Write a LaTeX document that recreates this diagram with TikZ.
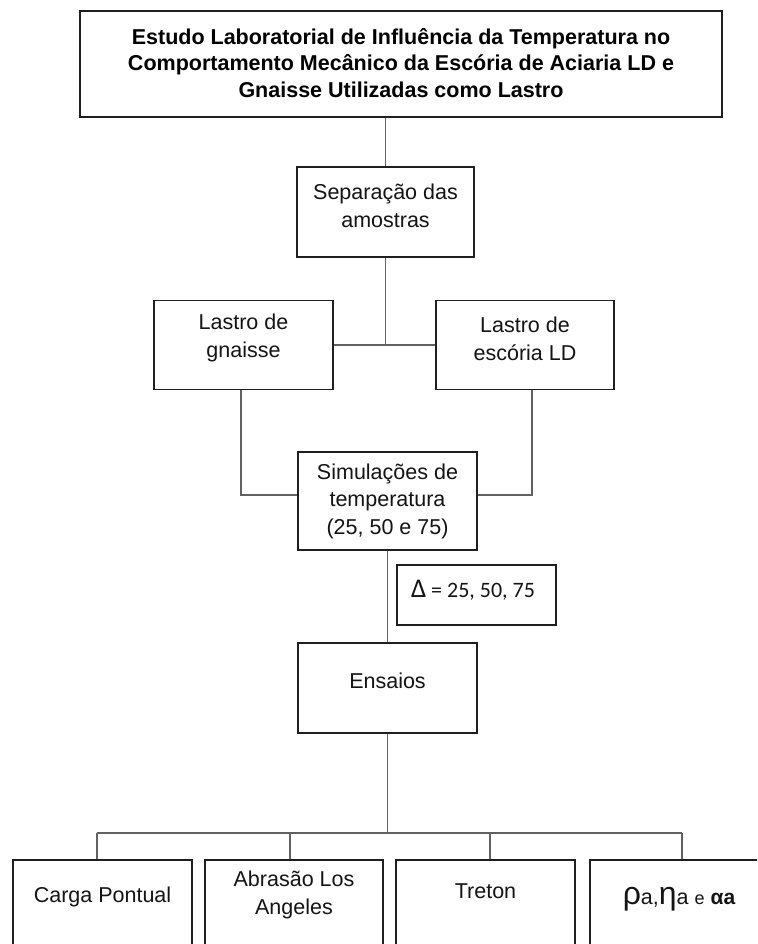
\documentclass[tikz,border=0pt]{standalone}
\usepackage{fontspec}
\setmainfont{Liberation Sans}
\newfontfamily\calib{Carlito}
\begin{document}
\begin{tikzpicture}[x=1pt,y=-1pt,
  box/.style={draw=black!88, line width=1.8pt, inner sep=0pt, fill=white},
  conn/.style={draw=black!62, line width=1.1pt},
  txt/.style={align=center, inner sep=0pt, text=black!92, font=\fontsize{21.5}{27.5}\selectfont},
  ttl/.style={align=center, inner sep=0pt, text=black, font=\bfseries\fontsize{21.5}{26.5}\selectfont}]
\useasboundingbox (0,0) rectangle (757,944);
\clip (0,0) rectangle (757,944);
\fill[white] (0,0) rectangle (757,944);

% boxes
\node[box, minimum width=642pt, minimum height=106pt] (title) at (401,64) {};
\node[box, minimum width=177pt, minimum height=90pt] (sep) at (385.5,212) {};
\node[box, minimum width=179pt, minimum height=89pt] (gn) at (243.5,345) {};
\node[box, minimum width=178pt, minimum height=89pt] (esc) at (525,345) {};
\node[box, minimum width=179pt, minimum height=98pt] (sim) at (387.5,501) {};
\node[box, minimum width=159pt, minimum height=60pt] (delta) at (476.5,595) {};
\node[box, minimum width=179pt, minimum height=90pt] (ens) at (387.5,688) {};
\node[box, anchor=north, minimum width=179pt, minimum height=100pt] (b1) at (102.5,859) {};
\node[box, anchor=north, minimum width=178pt, minimum height=100pt] (b2) at (294,859) {};
\node[box, anchor=north, minimum width=179pt, minimum height=100pt] (b3) at (485.5,859) {};
\node[box, anchor=north, minimum width=179pt, minimum height=100pt] (b4) at (679.5,859) {};

% texts
\node[ttl] (titleT) at (401,63) {Estudo Laboratorial de Influência da Temperatura no\\Comportamento Mecânico da Escória de Aciaria LD e\\Gnaisse Utilizadas como Lastro};
\node[txt] (sepT) at (385.5,206) {Separação das\\amostras};
\node[txt] (gnT) at (243.5,338) {Lastro de\\gnaisse};
\node[txt] (escT) at (525,339) {Lastro de\\escória LD};
\node[txt] (simT) at (387.5,501) {Simulações de\\temperatura\\(25, 50 e 75)};
\node[txt, font=\calib\fontsize{22}{24}\selectfont] (deltaT) at (473,590) {{\fontsize{27}{27}\selectfont Δ} = 25, 50, 75};
\node[txt] (ensT) at (387.5,681) {Ensaios};
\node[txt] (t1) at (102.5,897) {Carga Pontual};
\node[txt] (t2) at (294,895) {Abrasão Los\\Angeles};
\node[txt] (t3) at (485.5,891) {Treton};
\node[txt] (t4) at (679,899) {{\fontsize{32}{32}\selectfont ρ}a,{\fontsize{32}{32}\selectfont η}a {\fontsize{18}{18}\selectfont e} {\bfseries\fontsize{21}{21}\selectfont αa}};

% connectors
\draw[conn] (sep.north) -- (sep.north |- title.south);
\draw[conn] (sep.south) -- (sep.south |- gn.east);
\draw[conn] (gn.east) -- (esc.west);
\draw[conn] ([xshift=-2.5pt]gn.south) |- ([yshift=6pt]sim.west);
\draw[conn] ([xshift=7pt]esc.south) |- ([yshift=6pt]sim.east);
\draw[conn] (sim.south) -- (ens.north);
\coordinate (d1) at (97,833);
\coordinate (d2) at (290,833);
\coordinate (d3) at (490,833);
\coordinate (d4) at (682,833);
\draw[conn] (ens.south) -- (ens.south |- d1);
\draw[conn] (d1) -- (d4);
\draw[conn] (d1) -- (d1 |- b1.north);
\draw[conn] (d2) -- (d2 |- b2.north);
\draw[conn] (d3) -- (d3 |- b3.north);
\draw[conn] (d4) -- (d4 |- b4.north);
\end{tikzpicture}
\end{document}
